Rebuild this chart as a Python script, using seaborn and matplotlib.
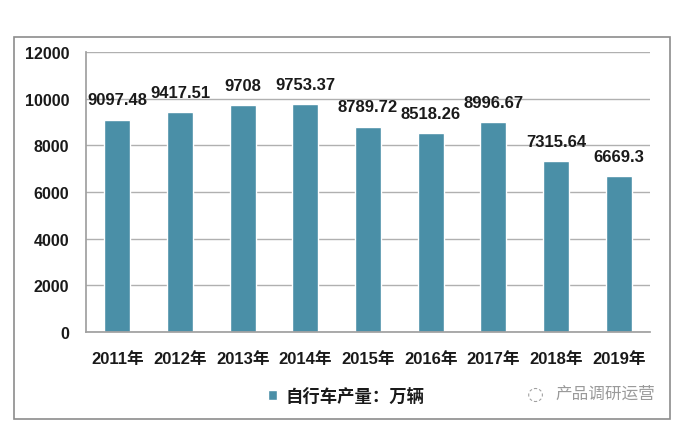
import matplotlib
matplotlib.use("Agg")
import matplotlib.pyplot as plt
import seaborn as sns
import pandas as pd
from matplotlib.patches import Rectangle

years = ["2011年", "2012年", "2013年", "2014年", "2015年", "2016年", "2017年", "2018年", "2019年"]
output = [9097.48, 9417.51, 9708, 9753.37, 8789.72, 8518.26, 8996.67, 7315.64, 6669.3]
value_labels = ["9097.48", "9417.51", "9708", "9753.37", "8789.72", "8518.26", "8996.67", "7315.64", "6669.3"]
yticks = [0, 2000, 4000, 6000, 8000, 10000, 12000]
series_name = "自行车产量：万辆"

sns.set_theme(style="white")
plt.rcParams['font.family'] = ['Liberation Sans', 'Noto Sans CJK SC', 'DejaVu Sans']

df = pd.DataFrame({"year": years, "value": output})
bar_color = "#4A8FA7"

fig = plt.figure(figsize=(6.88, 4.35), dpi=100)
fig.patch.set_facecolor("white")
# outer border
fig.patches.append(Rectangle((14/688, 1-420/435), 656/688, 382/435, transform=fig.transFigure,
                             fill=False, edgecolor="#8c8c8c", linewidth=1.2))

ax = fig.add_axes([86/688, 1-333/435, 564/688, 280/435])
sns.barplot(data=df, x="year", y="value", color=bar_color, width=0.42, ax=ax,
            saturation=1, label=series_name)

ax.set_ylim(0, 12000)
ax.set_yticks(yticks)
ax.set_yticklabels([str(t) for t in yticks], fontsize=11.5, fontweight="bold", color="#1a1a1a")
ax.set_xticks(range(len(years)))
ax.set_xticklabels(years, fontsize=12, fontweight="bold", color="#1a1a1a")
ax.tick_params(axis="x", length=0, pad=14)
ax.tick_params(axis="y", length=0, pad=12)
ax.set_xlabel("")
ax.set_ylabel("")
ax.set_xlim(-0.5, len(years) - 0.5)
ax.yaxis.grid(True, color="#b0b0b0", linewidth=1.0)
ax.set_axisbelow(True)
for s in ["top", "right"]:
    ax.spines[s].set_visible(False)
ax.spines["left"].set_color("#a0a0a0")
ax.spines["bottom"].set_color("#a0a0a0")

for i, (v, lab) in enumerate(zip(output, value_labels)):
    ax.annotate(lab, (i, v), xytext=(0, 9), textcoords="offset points",
                ha="center", va="bottom", fontsize=12, fontweight="bold", color="#1a1a1a")

leg = ax.legend(loc="center", bbox_to_anchor=(346/688, 1-397/435), bbox_transform=fig.transFigure,
                frameon=False, handlelength=0.5, handleheight=0.5, handletextpad=0.5,
                prop={"size": 12.5, "weight": "bold"})
for t in leg.get_texts():
    t.set_color("#1a1a1a")

fig.text(605/688, 1-394/435, "产品调研运营", ha="center", va="center", fontsize=12,
         color="#9a9a9a", family=['Noto Sans CJK SC', 'DejaVu Sans'])
fig.text(535/688, 1-394/435, "◌", ha="center", va="center", fontsize=14, color="#a0a0a0",
         family=['DejaVu Sans'])

fig.savefig("out.png", dpi=100, facecolor="white")
